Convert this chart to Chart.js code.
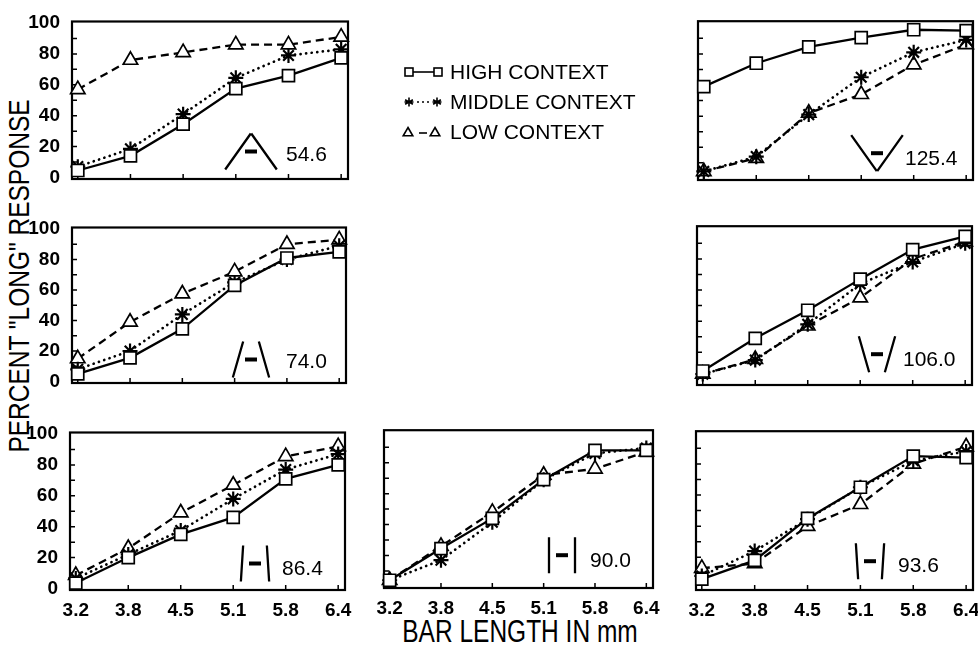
<!DOCTYPE html>
<html>
<head>
<meta charset="utf-8">
<title>Percent "long" response by bar length</title>
<script src="https://cdn.jsdelivr.net/npm/chart.js@4.4.1/dist/chart.umd.min.js"></script>
<style>
  body { margin: 0; width: 978px; height: 649px; overflow: hidden; position: relative; background: #fff; font-family: "Liberation Sans", Arial, sans-serif; }
  canvas { position: absolute; }
  .title { position: absolute; font-size: 24.5px; color: #000; white-space: nowrap; line-height: 1; }
</style>
</head>
<body>
<div class="title" style="left:520px; top:632px; transform: translate(-50%,-50%) scale(1,1.26)">BAR LENGTH IN mm</div>
<div class="title" style="left:20px; top:276px; transform: translate(-50%,-50%) rotate(-90deg) scale(1,1.22)">PERCENT "LONG" RESPONSE</div>
<canvas id="legend" width="250" height="100" style="left:395px; top:52px"></canvas>
<script>
const barLengths = ["3.2", "3.8", "4.5", "5.1", "5.8", "6.4"];
const yTicks = [0, 20, 40, 60, 80, 100];
const seriesNames = ["HIGH CONTEXT", "MIDDLE CONTEXT", "LOW CONTEXT"];

// percent "long" response, one array per context and per figure angle
const high546 = [4.5, 14, 34.5, 57.5, 66, 77.5];
const mid546 = [7, 18.5, 41, 64.5, 79, 83];
const low546 = [57, 76, 81, 86, 86, 91];

const high1254 = [59, 74, 84.5, 90.5, 95.5, 95];
const mid1254 = [4.5, 14, 41, 65, 81, 89];
const low1254 = [4.5, 13, 42, 54, 73, 86];

const high740 = [5, 15.5, 34.5, 63, 81, 85];
const mid740 = [8, 20, 44, 65, 80, 89];
const low740 = [15, 39, 57.5, 72, 90, 93];

const high1060 = [8, 29, 47, 67, 86, 94.5];
const mid1060 = [6, 15, 38, 64, 78, 90];
const low1060 = [6, 15.5, 37, 55, 80, 91];

const high864 = [3.5, 20, 35, 46, 71, 80];
const mid864 = [6.5, 22, 37.5, 58, 77, 87];
const low864 = [8.5, 26, 49, 67, 85.5, 92];

const high900 = [4, 24.5, 44, 69, 88, 88];
const mid900 = [4, 17, 41.5, 69, 86, 89.5];
const low900 = [4, 26, 48, 72, 76, 87];

const high936 = [6, 18, 45, 65, 85, 84];
const mid936 = [8, 24, 44.5, 65, 82, 88];
const low936 = [13, 16, 40, 54, 80, 91];

// panel placement (frame = left, top, width, height of the plot box)
const panels = [
  { angle: "54.6", series: [high546, mid546, low546], frame: [72, 14, 276, 165], yLabels: true, xLabels: false, icon: [179, 130], text: [214, 134] },
  { angle: "125.4", series: [high1254, mid1254, low1254], frame: [698, 17, 275, 163], yLabels: false, xLabels: false, icon: [179, 132], text: [207, 138] },
  { angle: "74.0", series: [high740, mid740, low740], frame: [72, 220, 274, 163], yLabels: true, xLabels: false, icon: [179, 132], text: [214, 135] },
  { angle: "106.0", series: [high1060, mid1060, low1060], frame: [697, 222, 275, 163], yLabels: false, xLabels: false, icon: [180, 128], text: [206, 134] },
  { angle: "86.4", series: [high864, mid864, low864], frame: [70, 425, 275, 165], yLabels: true, xLabels: true, icon: [185, 131], text: [212, 137] },
  { angle: "90.0", series: [high900, mid900, low900], frame: [384, 426, 269, 162], yLabels: false, xLabels: true, icon: [178, 125], text: [206, 131] },
  { angle: "93.6", series: [high936, mid936, low936], frame: [696, 427, 277, 163], yLabels: false, xLabels: true, icon: [174, 130], text: [202, 135] }
];

const PAD_L = 46, PAD_T = 6, PAD_R = 18, PAD_B = 30;
const tickFont = { family: "'Liberation Sans', Arial, sans-serif", size: 19, weight: "bold", lineHeight: 1 };

const seriesStyles = [
  { borderWidth: 2.3, borderDash: [], pointStyle: "rect", pointRadius: 8.5, pointBorderWidth: 1.7, pointBackgroundColor: "#fff" },
  { borderWidth: 2.7, borderDash: [0.1, 5.5], borderCapStyle: "round", pointStyle: "star", pointRadius: 7.5, pointBorderWidth: 2.2, pointBackgroundColor: "#000" },
  { borderWidth: 2.3, borderDash: [8, 5], pointStyle: "triangle", pointRadius: 8.3, pointBorderWidth: 1.7, pointBackgroundColor: "#fff" }
];

// box around the plot + little inward ticks
const framePlugin = {
  id: "frame",
  beforeDatasetsDraw(chart) {
    const { ctx, chartArea: a, scales: { x, y } } = chart;
    ctx.save();
    ctx.strokeStyle = "#000";
    ctx.lineWidth = 2.2;
    ctx.strokeRect(a.left, a.top, a.right - a.left, a.bottom - a.top);
    ctx.lineWidth = 1.5;
    ctx.beginPath();
    for (let v = 10; v < 100; v += 10) {
      const py = y.getPixelForValue(v);
      ctx.moveTo(a.left, py);
      ctx.lineTo(a.left + 5, py);
    }
    barLengths.forEach((_, i) => {
      const px = x.getPixelForValue(i);
      ctx.moveTo(px, a.bottom);
      ctx.lineTo(px, a.bottom - 5);
    });
    ctx.stroke();
    ctx.restore();
  }
};

// the little figure (two slanted lines + bar) and its angle
const insetPlugin = {
  id: "inset",
  afterDraw(chart, args, opts) {
    const { ctx, chartArea: a } = chart;
    const cx = a.left + opts.icon[0], cy = a.top + opts.icon[1];
    const H = 36, g = 13;
    const run = (H / 2) / Math.tan(parseFloat(opts.angle) * Math.PI / 180);
    ctx.save();
    ctx.strokeStyle = "#000";
    ctx.lineWidth = 2.3;
    ctx.beginPath();
    ctx.moveTo(cx - g - run, cy + H / 2);
    ctx.lineTo(cx - g + run, cy - H / 2);
    ctx.moveTo(cx + g + run, cy + H / 2);
    ctx.lineTo(cx + g - run, cy - H / 2);
    ctx.stroke();
    ctx.lineWidth = 4;
    ctx.beginPath();
    ctx.moveTo(cx - 6, cy);
    ctx.lineTo(cx + 6, cy);
    ctx.stroke();
    ctx.fillStyle = "#000";
    ctx.font = "21px 'Liberation Sans', Arial, sans-serif";
    ctx.textAlign = "left";
    ctx.textBaseline = "middle";
    ctx.fillText(opts.angle, a.left + opts.text[0], a.top + opts.text[1]);
    ctx.restore();
  }
};

panels.forEach(p => {
  const [fx, fy, fw, fh] = p.frame;
  const cv = document.createElement("canvas");
  cv.width = fw + PAD_L + PAD_R;
  cv.height = fh + PAD_T + PAD_B;
  cv.style.left = (fx - PAD_L) + "px";
  cv.style.top = (fy - PAD_T) + "px";
  document.body.appendChild(cv);

  const datasets = p.series.map((vals, k) => ({
    label: seriesNames[k],
    data: vals.map((v, i) => ({ x: i, y: v })),
    borderColor: "#000",
    pointBorderColor: "#000",
    tension: 0,
    clip: false,
    ...seriesStyles[k]
  }));

  new Chart(cv, {
    type: "line",
    data: { datasets },
    options: {
      responsive: false,
      animation: false,
      devicePixelRatio: 1,
      layout: { padding: { top: PAD_T, right: PAD_R, left: 0, bottom: 0 } },
      plugins: {
        legend: { display: false },
        tooltip: { enabled: false },
        inset: { angle: p.angle, icon: p.icon, text: p.text }
      },
      scales: {
        x: {
          type: "linear",
          min: -0.11,
          max: 5.13,
          afterBuildTicks: s => { s.ticks = barLengths.map((_, i) => ({ value: i })); },
          afterFit: s => { s.height = PAD_B; },
          grid: { display: false },
          border: { display: false },
          ticks: { display: p.xLabels, callback: v => barLengths[v], font: tickFont, color: "#000", padding: 3, maxRotation: 0, autoSkip: false }
        },
        y: {
          min: -1,
          max: 101,
          afterBuildTicks: s => { s.ticks = yTicks.map(v => ({ value: v })); },
          afterFit: s => { s.width = PAD_L; },
          grid: { display: false },
          border: { display: false },
          ticks: { display: p.yLabels, font: tickFont, color: "#000", padding: 4 }
        }
      }
    },
    plugins: [framePlugin, insetPlugin]
  });
});

// legend in the empty middle slot
const lg = document.getElementById("legend").getContext("2d");
const rows = [20, 50, 80];
lg.strokeStyle = "#000";
lg.fillStyle = "#000";
lg.lineWidth = 1.6;
// high: square - square
lg.strokeRect(10, rows[0] - 4, 8, 8);
lg.strokeRect(39, rows[0] - 4, 8, 8);
lg.beginPath(); lg.moveTo(18, rows[0]); lg.lineTo(39, rows[0]); lg.stroke();
// middle: star ... star
function star(x, y, r) {
  lg.beginPath();
  for (let k = 0; k < 3; k++) {
    const t = k * Math.PI / 3 + Math.PI / 2;
    lg.moveTo(x + r * Math.cos(t), y + r * Math.sin(t));
    lg.lineTo(x - r * Math.cos(t), y - r * Math.sin(t));
  }
  lg.moveTo(x - r, y); lg.lineTo(x + r, y);
  lg.stroke();
}
star(14, rows[1], 4.5);
star(42, rows[1], 4.5);
[23, 28, 33].forEach(dx => { lg.beginPath(); lg.arc(dx, rows[1], 1, 0, Math.PI * 2); lg.fill(); });
// low: triangle - triangle
function tri(x, y, r) {
  lg.beginPath();
  lg.moveTo(x, y - r);
  lg.lineTo(x + r * 0.87, y + r * 0.5);
  lg.lineTo(x - r * 0.87, y + r * 0.5);
  lg.closePath();
  lg.stroke();
}
tri(13, rows[2] + 1, 5.5);
tri(40, rows[2] + 1, 5.5);
lg.beginPath(); lg.moveTo(24, rows[2] + 1); lg.lineTo(32, rows[2] + 1); lg.stroke();
lg.font = "21px 'Liberation Sans', Arial, sans-serif";
lg.textBaseline = "middle";
seriesNames.forEach((name, i) => lg.fillText(name, 55, rows[i] + 1));
</script>
</body>
</html>
